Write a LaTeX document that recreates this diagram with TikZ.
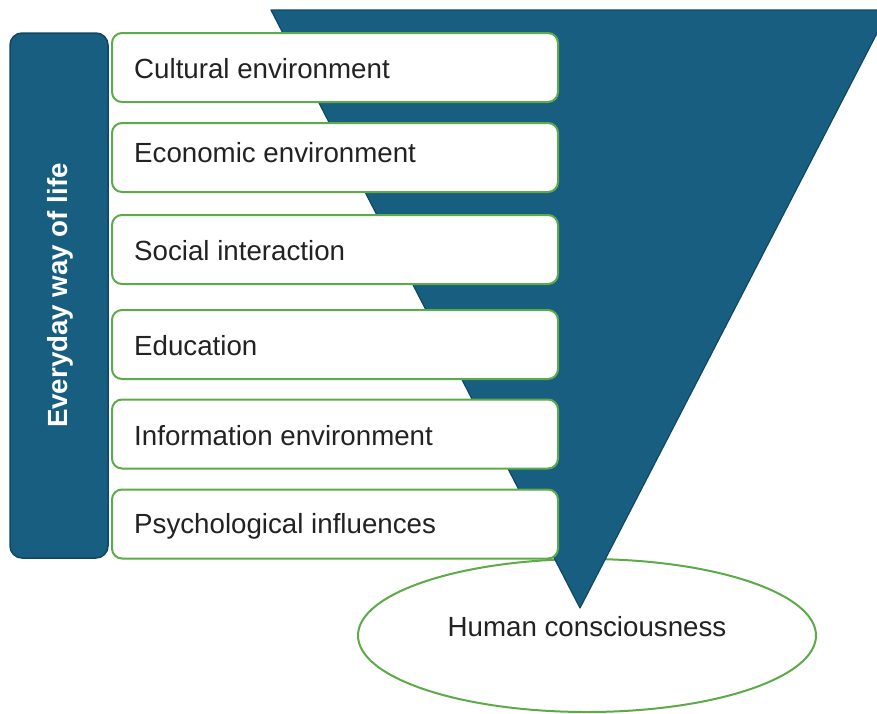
\documentclass[tikz,border=0pt]{standalone}
\usepackage{fontspec}
\setmainfont{Liberation Sans}
\usetikzlibrary{shapes.geometric}
\definecolor{tblue}{RGB}{23,94,128}
\definecolor{tblueline}{RGB}{16,72,98}
\definecolor{tgreen}{RGB}{92,170,72}
\definecolor{ttext}{RGB}{34,34,34}
\tikzset{
  itembox/.style={draw=tgreen, line width=2pt, fill=white, rounded corners=10pt,
    minimum width=446pt, minimum height=69pt, inner sep=0pt},
  itemtext/.style={anchor=base west, inner sep=0pt, text=ttext, font=\fontsize{27.7}{33}\selectfont},
  sidebox/.style={draw=tblueline, line width=1.5pt, fill=tblue, rounded corners=12pt},
}
\begin{document}
\begin{tikzpicture}[x=1pt,y=-1pt]
\useasboundingbox (0,0) rectangle (877,713);
% ellipse
\node[ellipse, draw=tgreen, line width=2pt, fill=white, minimum width=458pt, minimum height=153pt,
  inner sep=0pt] (hc) at (587,635.5) {};
\node[text=ttext, font=\fontsize{27.7}{33}\selectfont, anchor=base, inner sep=0pt] (hct) at (587,636.5) {Human consciousness};
% triangle
\begin{scope}
\clip (0,0) rectangle (877,713);
\coordinate (tl) at (271,10);
\coordinate (tr) at (889,10);
\coordinate (tip) at (580,608);
\draw[fill=tblue, draw=tblueline, line width=1.2pt, line join=round] (tl) -- (tr) -- (tip) -- cycle;
\end{scope}
% side box
\draw[sidebox] (10,33) rectangle (108,558);
\node[rotate=90, text=white, font=\bfseries\fontsize{27.7}{33}\selectfont] (side) at (60,295.5) {Everyday way of life};
% item boxes
\node[itembox] (b1) at (335,67.5) {};
\node[itembox] (b2) at (335,157.5) {};
\node[itembox] (b3) at (335,249.5) {};
\node[itembox] (b4) at (335,344.5) {};
\node[itembox] (b5) at (335,434) {};
\node[itembox] (b6) at (335,524) {};
\node[itemtext] (t1) at (134,78.3) {Cultural environment};
\node[itemtext] (t2) at (134,162.7) {Economic environment};
\node[itemtext] (t3) at (134,260) {Social interaction};
\node[itemtext] (t4) at (134,355) {Education};
\node[itemtext] (t5) at (134,445) {Information environment};
\node[itemtext] (t6) at (134,533.3) {Psychological influences};
\end{tikzpicture}
\end{document}
